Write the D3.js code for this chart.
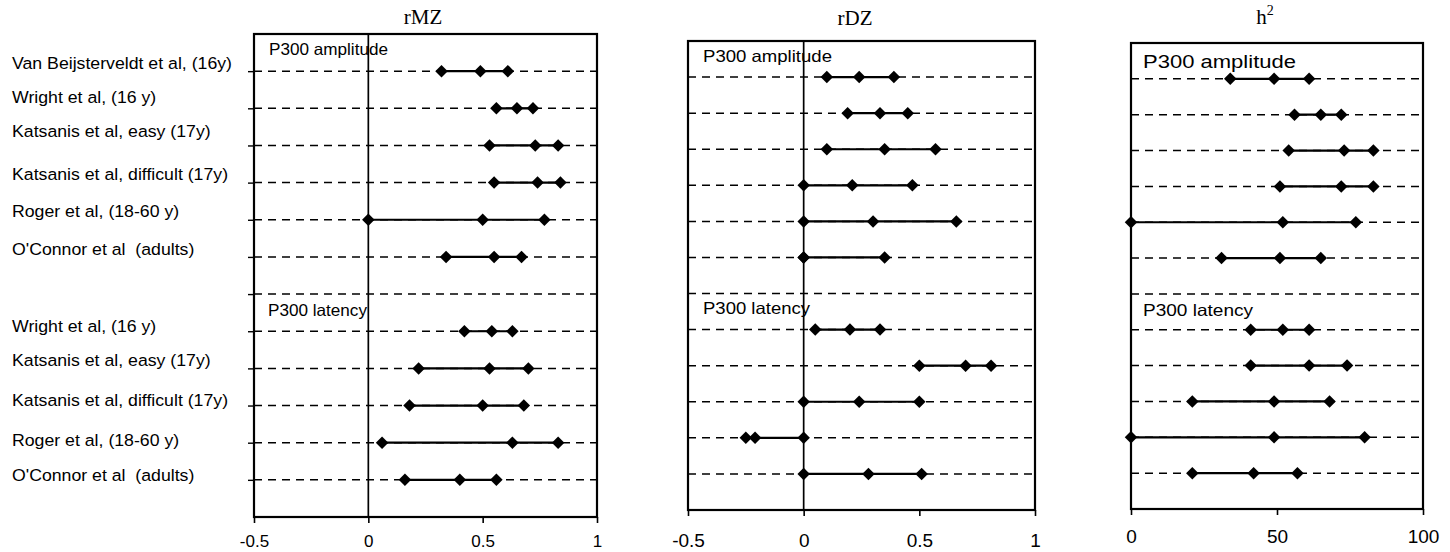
<!DOCTYPE html>
<html><head><meta charset="utf-8">
<script src="https://cdn.jsdelivr.net/npm/d3@7"></script>
<style>body{margin:0;background:#fff}svg{display:block}</style>
</head><body><svg id="c" width="1450" height="552"></svg>
<script>
// ---------- data ----------
const rowLabels = ["Van Beijsterveldt et al, (16y)", "Wright et al, (16 y)", "Katsanis et al, easy (17y)",
  "Katsanis et al, difficult (17y)", "Roger et al, (18-60 y)", "O'Connor et al  (adults)", "",
  "Wright et al, (16 y)", "Katsanis et al, easy (17y)", "Katsanis et al, difficult (17y)",
  "Roger et al, (18-60 y)", "O'Connor et al  (adults)"];
const groupLabels = ["P300 amplitude", "P300 latency"];
const groupStart = [0, 7];
const panelTitles = ["rMZ", "rDZ", "h"];

const rmzLow  = [0.32, 0.56, 0.53, 0.55, 0.00, 0.34, null, 0.42, 0.22, 0.18, 0.06, 0.16];
const rmzEst  = [0.49, 0.65, 0.73, 0.74, 0.50, 0.55, null, 0.54, 0.53, 0.50, 0.63, 0.40];
const rmzHigh = [0.61, 0.72, 0.83, 0.84, 0.77, 0.67, null, 0.63, 0.70, 0.68, 0.83, 0.56];

const rdzLow  = [0.10, 0.19, 0.10, 0.00, 0.00, 0.00, null, 0.05, 0.50, 0.00, -0.25, 0.00];
const rdzEst  = [0.24, 0.33, 0.35, 0.21, 0.30, 0.00, null, 0.20, 0.70, 0.24, -0.21, 0.28];
const rdzHigh = [0.39, 0.45, 0.57, 0.47, 0.66, 0.35, null, 0.33, 0.81, 0.50, 0.00, 0.51];

const h2Low  = [34, 56, 54, 51, 0, 31, null, 41, 41, 21, 0, 21];
const h2Est  = [49, 65, 73, 72, 52, 51, null, 52, 61, 49, 49, 42];
const h2High = [61, 72, 83, 83, 77, 65, null, 61, 74, 68, 80, 57];

const corrTicks = [-0.5, 0, 0.5, 1];
const corrTickLabels = ["-0.5", "0", "0.5", "1"];
const h2Ticks = [0, 50, 100];
const h2TickLabels = ["0", "50", "100"];

// ---------- layout ----------
const panels = [
  {title: panelTitles[0], low: rmzLow, est: rmzEst, high: rmzHigh, domain: [-0.5, 1], ticks: corrTicks, tickLabels: corrTickLabels,
   left: 254, right: 597, top: 34, bottom: 517, tickFont: 17, tickBase: 547, titleX: 423, titleY: 24, yTicks: true,
   gFont: [16.5, 16.5], gLen: [119, 99], gX: [269, 268], gDy: [-16, -15]},
  {title: panelTitles[1], low: rdzLow, est: rdzEst, high: rdzHigh, domain: [-0.5, 1], ticks: corrTicks, tickLabels: corrTickLabels,
   left: 688, right: 1035, top: 41, bottom: 510, tickFont: 19, tickBase: 547, titleX: 855, titleY: 25, yTicks: false,
   gFont: [16.5, 16.5], gLen: [129, 107], gX: [703, 703], gDy: [-15, -16]},
  {title: panelTitles[2], low: h2Low, est: h2Est, high: h2High, domain: [0, 100], ticks: h2Ticks, tickLabels: h2TickLabels,
   left: 1131, right: 1423, top: 43, bottom: 509, tickFont: 19, tickBase: 543, titleX: 1265, titleY: 24, yTicks: false, sup: "2",
   gFont: [17.5, 16.5], gLen: [153, 110], gX: [1143, 1143], gDy: [-11, -14]}
];
const labelDy = [-8, -11, -14, -9, -9, -8, 0, -5, -8, -5, -3, -5];
const nRows = rowLabels.length;

const svg = d3.select("#c");
const sans = "Arial, 'Liberation Sans', sans-serif";
const serif = "'Times New Roman', 'Liberation Serif', serif";
const diamond = d3.symbol().type(d3.symbolSquare).size(78)();

panels.forEach((p, pi) => {
  const x = d3.scaleLinear().domain(p.domain).range([p.left, p.right]);
  const y = d3.scaleLinear().domain([0, nRows + 1]).range([p.top, p.bottom]);
  const g = svg.append("g");
  const rows = d3.range(nRows);

  // dashed row lines
  g.selectAll("line.dash").data(rows).join("line")
    .attr("x1", p.left).attr("x2", p.right)
    .attr("y1", i => y(i + 1)).attr("y2", i => y(i + 1))
    .attr("stroke", "#000").attr("stroke-width", 1.5).attr("stroke-dasharray", "8,6");

  // group labels
  groupLabels.forEach((lab, k) => {
    g.append("text").text(lab)
      .attr("x", p.gX[k]).attr("y", y(groupStart[k] + 1) + p.gDy[k])
      .attr("font-family", sans).attr("font-size", p.gFont[k])
      .attr("textLength", p.gLen[k]).attr("lengthAdjust", "spacingAndGlyphs")
      .attr("fill", "#000");
  });

  // zero line
  if (p.domain[0] < 0 && p.domain[1] > 0) {
    g.append("line").attr("x1", x(0)).attr("x2", x(0)).attr("y1", p.top).attr("y2", p.bottom)
      .attr("stroke", "#000").attr("stroke-width", 1.7);
  }

  const valid = rows.filter(i => p.low[i] !== null);
  // range segments
  g.selectAll("line.seg").data(valid).join("line")
    .attr("x1", i => x(p.low[i])).attr("x2", i => x(p.high[i]))
    .attr("y1", i => y(i + 1)).attr("y2", i => y(i + 1))
    .attr("stroke", "#000").attr("stroke-width", 2.2);

  // markers
  const pts = [];
  valid.forEach(i => { [p.low[i], p.est[i], p.high[i]].forEach(v => pts.push({i, v})); });
  g.selectAll("path.m").data(pts).join("path")
    .attr("d", diamond)
    .attr("transform", d => `translate(${x(d.v)},${y(d.i + 1)}) rotate(45)`)
    .attr("fill", "#000");

  // box
  g.append("rect").attr("x", p.left).attr("y", p.top)
    .attr("width", p.right - p.left).attr("height", p.bottom - p.top)
    .attr("fill", "none").attr("stroke", "#000").attr("stroke-width", 2.2);

  // bottom axis ticks
  const ax = d3.axisBottom(x).tickValues(p.ticks).tickSizeInner(6).tickSizeOuter(0)
    .tickFormat((d, k) => p.tickLabels[k]);
  const axg = g.append("g").attr("transform", `translate(0,${p.bottom})`).call(ax);
  axg.select(".domain").remove();
  axg.selectAll(".tick line").attr("stroke", "#000").attr("stroke-width", 1.6);
  axg.selectAll(".tick text").attr("font-family", sans).attr("font-size", p.tickFont)
    .attr("fill", "#000").attr("dy", null).attr("y", p.tickBase - p.bottom);

  // left ticks
  if (p.yTicks) {
    const ay = d3.axisLeft(y).tickValues(rows.map(i => i + 1)).tickSizeInner(6).tickSizeOuter(0).tickFormat("");
    const ayg = g.append("g").attr("transform", `translate(${p.left},0)`).call(ay);
    ayg.select(".domain").remove();
    ayg.selectAll(".tick line").attr("stroke", "#000").attr("stroke-width", 1.4);
  }

  // title
  const t = svg.append("text").attr("x", p.titleX).attr("y", p.titleY)
    .attr("text-anchor", "middle").attr("font-family", serif).attr("font-size", 21).attr("fill", "#000")
    .text(p.title);
  if (p.sup) {
    t.attr("font-size", 21);
    t.append("tspan").attr("dy", -9).attr("font-size", 14).text(p.sup);
  }

  // row labels (left of first panel)
  if (pi === 0) {
    svg.selectAll("text.rl").data(rows.filter(i => rowLabels[i] !== "")).join("text")
      .attr("class", "rl")
      .attr("transform", i => `translate(12,${y(i + 1) + labelDy[i]}) scale(1.03,1)`)
      .attr("dominant-baseline", "central")
      .attr("font-family", sans).attr("font-size", 17.2).attr("fill", "#000")
      .style("white-space", "pre")
      .text(i => rowLabels[i]);
  }
});
</script>
</body></html>
